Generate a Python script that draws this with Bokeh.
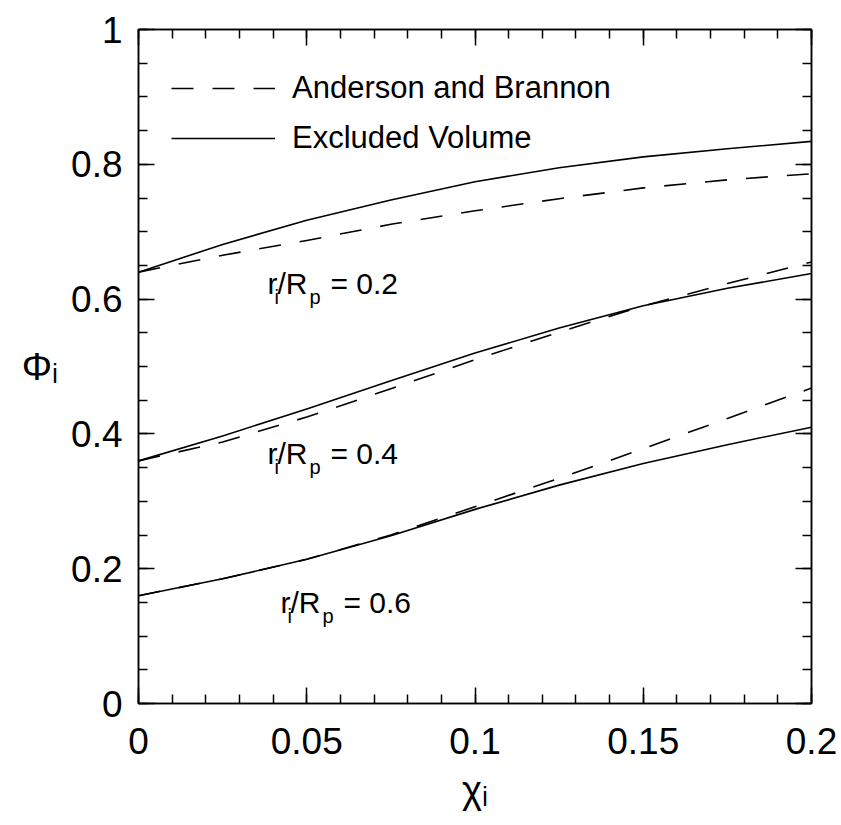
from bokeh.plotting import figure
from bokeh.models import (Range1d, FixedTicker, LinearAxis, Label, Legend,
                          LegendItem, CustomJSTickFormatter)
from bokeh.embed import file_html
from bokeh.resources import INLINE

# ---------------- data ----------------
chi = [0.0, 0.025, 0.05, 0.075, 0.1, 0.125, 0.15, 0.175, 0.2]

# Anderson and Brannon (dashed)
ab_02 = [0.640, 0.665, 0.687, 0.711, 0.731, 0.749, 0.765, 0.777, 0.786]
ab_04 = [0.360, 0.388, 0.425, 0.467, 0.510, 0.551, 0.590, 0.623, 0.655]
ab_06 = [0.160, 0.185, 0.214, 0.250, 0.292, 0.334, 0.378, 0.423, 0.468]

# Excluded Volume (solid)
ev_02 = [0.640, 0.681, 0.717, 0.747, 0.774, 0.795, 0.811, 0.823, 0.834]
ev_04 = [0.360, 0.397, 0.437, 0.479, 0.520, 0.557, 0.590, 0.616, 0.638]
ev_06 = [0.160, 0.185, 0.214, 0.249, 0.288, 0.324, 0.356, 0.384, 0.410]

ratio_labels = ["0.2", "0.4", "0.6"]
legend_labels = ["Anderson and Brannon", "Excluded Volume"]
x_title = "\u03c7\u1d62"   # chi with subscript i
y_title = "\u03a6\u1d62"   # Phi with subscript i

x_major = [0, 0.05, 0.1, 0.15, 0.2]
y_major = [0, 0.2, 0.4, 0.6, 0.8, 1.0]
x_minor = [round(i * 0.01, 2) for i in range(21)]
y_minor = [round(i * 0.05, 2) for i in range(21)]

FONT = "Liberation Sans"

# ---------------- figure ----------------
FL, FT = 138, 29
FW, FH = 673, 674
p = figure(frame_width=FW, frame_height=FH,
           min_border_left=FL, min_border_right=28,
           min_border_top=FT, min_border_bottom=121,
           x_range=Range1d(0, 0.2), y_range=Range1d(0, 1),
           output_backend="svg", toolbar_location=None)
p.xgrid.visible = False
p.ygrid.visible = False
p.outline_line_color = "black"
p.outline_line_width = 1.5
p.background_fill_color = "white"
p.border_fill_color = "white"

fmt = CustomJSTickFormatter(code="return String(parseFloat(tick.toFixed(3)));")


def style_axis(ax, ticks, minor, labels=True, standoff=16):
    ax.ticker = FixedTicker(ticks=ticks, minor_ticks=minor)
    ax.formatter = fmt
    ax.axis_line_color = "black"
    ax.axis_line_width = 1.5
    ax.major_tick_line_color = "black"
    ax.minor_tick_line_color = "black"
    ax.major_tick_line_width = 1.5
    ax.minor_tick_line_width = 1.5
    ax.major_tick_in = 16
    ax.major_tick_out = 0
    ax.minor_tick_in = 9
    ax.minor_tick_out = 0
    ax.major_label_text_font = FONT
    ax.major_label_text_color = "black"
    ax.major_label_standoff = standoff
    if labels:
        ax.major_label_text_font_size = "37px"
    else:
        ax.major_label_text_font_size = "0px"
        ax.major_label_text_alpha = 0


xa = p.xaxis[0]
ya = p.yaxis[0]
style_axis(xa, x_major, x_minor, True, 24)
style_axis(ya, y_major, y_minor, True, 16)

xa.axis_label = x_title
xa.axis_label_text_font = FONT
xa.axis_label_text_font_size = "38px"
xa.axis_label_text_font_style = "normal"
xa.axis_label_text_color = "black"
xa.axis_label_standoff = 12

ya.axis_label = y_title
ya.axis_label_orientation = "horizontal"
ya.axis_label_text_font = FONT
ya.axis_label_text_font_size = "38px"
ya.axis_label_text_font_style = "normal"
ya.axis_label_text_color = "black"
ya.axis_label_standoff = 10

top = LinearAxis()
style_axis(top, x_major, x_minor, False)
p.add_layout(top, "above")
right = LinearAxis()
style_axis(right, y_major, y_minor, False)
p.add_layout(right, "right")

# ---------------- curves ----------------
DASH = "22 19"
LW = 1.6
r_ab = []
r_ev = []
for ab, ev in [(ab_02, ev_02), (ab_04, ev_04), (ab_06, ev_06)]:
    r_ab.append(p.line(chi, ab, line_color="black", line_width=LW,
                       line_dash=DASH, line_join="round"))
    r_ev.append(p.line(chi, ev, line_color="black", line_width=LW,
                       line_join="round"))

legend = Legend(items=[LegendItem(label=legend_labels[0], renderers=[r_ab[0]]),
                       LegendItem(label=legend_labels[1], renderers=[r_ev[0]])],
                location=(33, FH - 134), margin=0, padding=0, spacing=0,
                glyph_width=104, glyph_height=50, label_height=50,
                label_standoff=17, label_text_font=FONT,
                label_text_font_size="31px", label_text_color="black",
                border_line_color=None, background_fill_alpha=0)
p.add_layout(legend)

# ---------------- curve labels ----------------
# helpers: convert page pixel positions to data units for annotation placement


def dx(px):
    return (px - FL) / FW * 0.2


def dy(py):
    return (FT + FH - py) / FH * 1.0


def lab(xpx, ypx, text, size):
    p.add_layout(Label(x=dx(xpx), y=dy(ypx), text=text, text_font=FONT,
                       text_font_size=size, text_color="black",
                       text_align="left", text_baseline="alphabetic"))


MAIN, SUB = "30px", "20px"
anchors = [(267, 283), (267, 453), (280, 602)]
for (ax_, ay_), val in zip(anchors, ratio_labels):
    lab(ax_, ay_, "r", MAIN)
    lab(ax_ + 7, ay_ + 13, "i", SUB)
    lab(ax_ + 10, ay_, "/R", MAIN)
    lab(ax_ + 42, ay_ + 13, "p", SUB)
    lab(ax_ + 63, ay_, "= " + val, MAIN)

open("out.html", "w").write(file_html(p, INLINE))
